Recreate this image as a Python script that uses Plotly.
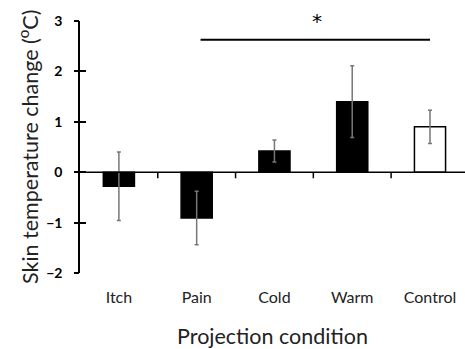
import plotly.graph_objects as go

categories = ["Itch", "Pain", "Cold", "Warm", "Control"]
values = [-0.28, -0.91, 0.42, 1.40, 0.90]
errors = [0.68, 0.53, 0.22, 0.71, 0.33]
fill_colors = ["black", "black", "black", "black", "white"]
y_ticks = [-2, -1, 0, 1, 2, 3]
sig_pair = ["Pain", "Control"]
sig_level = 2.63
sig_label = "*"

FONT = "Lato"

fig = go.Figure()
fig.add_trace(go.Bar(
    x=categories, y=values,
    marker=dict(color=fill_colors, line=dict(color="black", width=1.5)),
    width=0.4,
    error_y=dict(type="data", array=errors, visible=True, color="#777777",
                 thickness=1.5, width=2),
    showlegend=False,
))
# invisible traces for tick overlays
for ax in ["y2", "y3"]:
    fig.add_trace(go.Scatter(x=[categories[0]], y=[0], yaxis=ax, mode="markers",
                             marker=dict(opacity=0), showlegend=False, hoverinfo="skip"))

n = len(categories)
shapes = []
# zero baseline (x axis)
shapes.append(dict(type="line", xref="paper", yref="y", x0=0, x1=1, y0=0, y1=0,
                   line=dict(color="black", width=1.5), layer="above"))
# category separator ticks
for i in range(n - 1):
    shapes.append(dict(type="line", xref="x", yref="paper", x0=i + 0.5, x1=i + 0.5,
                       y0=(0 - (-2)) / 5.0, y1=(0 - (-2)) / 5.0 - 0.024,
                       line=dict(color="black", width=1.5)))
# significance line
i0 = categories.index(sig_pair[0])
i1 = categories.index(sig_pair[1])
shapes.append(dict(type="line", xref="x", yref="y", x0=i0 + 0.05, x1=i1, y0=sig_level, y1=sig_level,
                   line=dict(color="black", width=2)))

fig.update_layout(
    width=465, height=349,
    margin=dict(l=80, r=0, t=21, b=76),
    paper_bgcolor="white", plot_bgcolor="white",
    font=dict(family=FONT, color="black"),
    shapes=shapes,
    annotations=[
        dict(x=(i0 + i1) / 2 + 0.05, y=3.0, xref="x", yref="y", text=sig_label,
             showarrow=False, font=dict(size=20, family="DejaVu Sans", color="black"),
             yanchor="middle"),
        dict(x=-0.135, y=0.5, xref="paper", yref="paper",
             text="Skin temperature change (<sup>o</sup>C)", textangle=-90,
             showarrow=False, xanchor="center", yanchor="middle",
             font=dict(size=21.5, family=FONT, color="#222222")),
    ],
    xaxis=dict(range=[-0.5, 4.45], showline=False, ticks="", showgrid=False,
               zeroline=False, tickfont=dict(size=16, family=FONT, weight="normal", color="#222222"),
               ticklabelstandoff=13,
               title=dict(text="Projection condition", font=dict(size=21.5, family=FONT, color="#222222"), standoff=26)),
    yaxis=dict(range=[-2, 3], tickvals=y_ticks, showline=True, linecolor="black", linewidth=1.5,
               ticks="outside", ticklen=13, tickwidth=1.5, tickcolor="rgba(255,255,255,0)",
               showgrid=False, zeroline=False,
               tickfont=dict(size=14, family=FONT, weight="bold")),
    yaxis2=dict(range=[-2, 3], tickvals=y_ticks, overlaying="y", side="left",
                anchor="x", showline=False, ticks="inside", ticklen=6, tickwidth=1.5,
                tickcolor="black", showticklabels=False, showgrid=False, zeroline=False),
    yaxis3=dict(range=[-2, 3], tickvals=y_ticks, overlaying="y", side="left",
                anchor="x", showline=False, ticks="outside", ticklen=5, tickwidth=1.5,
                tickcolor="black", showticklabels=False, showgrid=False, zeroline=False),
    bargap=0.6,
)

fig.write_html("out.html")
